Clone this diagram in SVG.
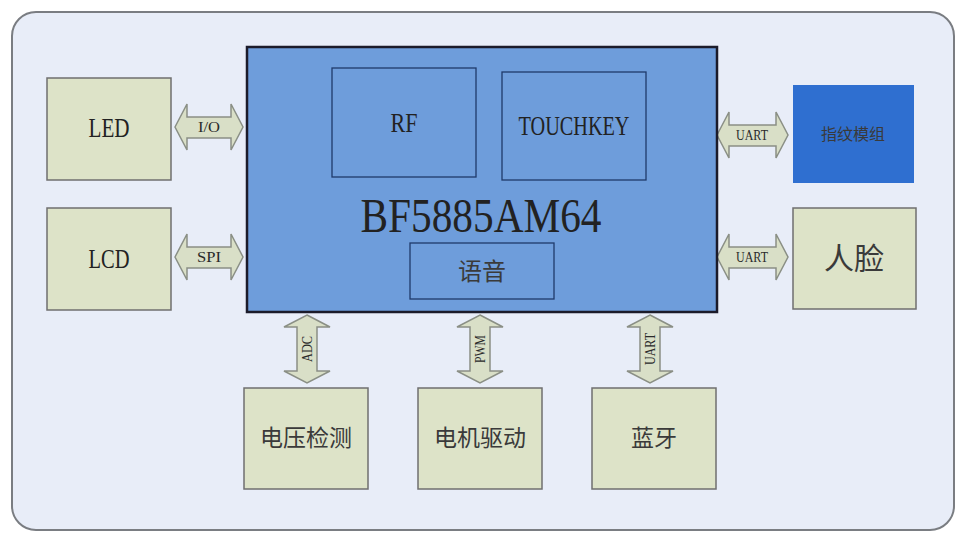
<svg xmlns="http://www.w3.org/2000/svg" width="965" height="542" viewBox="0 0 965 542">
<defs>
<style>
.node{fill:#dde3c8;stroke:#6f6f6f;stroke-width:1.5}
.chip{fill:#6e9ddb;stroke:#1b1b2a;stroke-width:2.5}
.sub{fill:none;stroke:#1f3a6a;stroke-width:1.3}
.arrow{fill:#d9dfc7;stroke:#8a8f85;stroke-width:1.5}
.ser{font-family:"Liberation Serif","Noto Sans CJK SC",serif;fill:#222}
.cjk{font-family:"Noto Sans CJK SC","Noto Sans",sans-serif;fill:#3a3a3a}
.lbl{font-family:"Liberation Serif",serif;font-size:14px;fill:#2a2a2a}
</style>
</defs>
<rect width="965" height="542" fill="#ffffff"/>
<rect id="frame" x="12" y="12" width="942" height="518" rx="24" fill="#e8edf8" stroke="#7a7d82" stroke-width="2"/>

<g id="connectors">
  <path class="arrow" d="M175,127 L187,104 L187,117 L231,117 L231,104 L243,127 L231,150 L231,138 L187,138 L187,150 Z"/>
  <text class="lbl" x="209" y="132" text-anchor="middle" textLength="22" lengthAdjust="spacingAndGlyphs">I/O</text>
  <path class="arrow" d="M175,257 L187,234 L187,247 L231,247 L231,234 L243,257 L231,280 L231,268 L187,268 L187,280 Z"/>
  <text class="lbl" x="209" y="262" text-anchor="middle" textLength="24" lengthAdjust="spacingAndGlyphs">SPI</text>
  <path class="arrow" d="M717,135 L729,112 L729,125 L776,125 L776,112 L788,135 L776,158 L776,146 L729,146 L729,158 Z"/>
  <text class="lbl" x="752" y="140" text-anchor="middle" textLength="32" lengthAdjust="spacingAndGlyphs">UART</text>
  <path class="arrow" d="M717,257 L729,234 L729,247 L776,247 L776,234 L788,257 L776,280 L776,268 L729,268 L729,280 Z"/>
  <text class="lbl" x="752" y="262" text-anchor="middle" textLength="32" lengthAdjust="spacingAndGlyphs">UART</text>
  <path class="arrow" d="M307,315 L330,327 L317,327 L317,371 L330,371 L307,383 L284,371 L297,371 L297,327 L284,327 Z"/>
  <text class="lbl" transform="translate(312,349) rotate(-90)" text-anchor="middle" textLength="26" lengthAdjust="spacingAndGlyphs">ADC</text>
  <path class="arrow" d="M480,315 L503,327 L490,327 L490,371 L503,371 L480,383 L457,371 L470,371 L470,327 L457,327 Z"/>
  <text class="lbl" transform="translate(485,349) rotate(-90)" text-anchor="middle" textLength="28" lengthAdjust="spacingAndGlyphs">PWM</text>
  <path class="arrow" d="M650,315 L673,327 L660,327 L660,371 L673,371 L650,383 L627,371 L640,371 L640,327 L627,327 Z"/>
  <text class="lbl" transform="translate(655,349) rotate(-90)" text-anchor="middle" textLength="32" lengthAdjust="spacingAndGlyphs">UART</text>
</g>

<g id="chip">
  <rect class="chip" x="247" y="47" width="470" height="265"/>
  <rect class="sub" x="332" y="68" width="144" height="109"/>
  <text class="ser" x="404" y="132" text-anchor="middle" font-size="28" textLength="27" lengthAdjust="spacingAndGlyphs" fill="#15203a">RF</text>
  <rect class="sub" x="502" y="72" width="144" height="108"/>
  <text class="ser" x="574" y="135" text-anchor="middle" font-size="28" textLength="111" lengthAdjust="spacingAndGlyphs" fill="#15203a">TOUCHKEY</text>
  <text class="ser" x="481" y="232" text-anchor="middle" font-size="48" textLength="241" lengthAdjust="spacingAndGlyphs" fill="#15203a">BF5885AM64</text>
  <rect class="sub" x="410" y="243" width="144" height="56"/>
  <text class="cjk" x="482" y="280" text-anchor="middle" font-size="24" fill="#1a2a44">语音</text>
</g>

<g id="led"><rect class="node" x="47" y="78" width="124" height="102"/>
  <text class="ser" x="109" y="137" text-anchor="middle" font-size="27" textLength="41" lengthAdjust="spacingAndGlyphs">LED</text></g>
<g id="lcd"><rect class="node" x="47" y="208" width="124" height="102"/>
  <text class="ser" x="109" y="268" text-anchor="middle" font-size="27" textLength="41" lengthAdjust="spacingAndGlyphs">LCD</text></g>
<g id="fingerprint"><rect x="793" y="85" width="121" height="98" fill="#2f6fd0"/>
  <text class="cjk" x="853" y="140" text-anchor="middle" font-size="16" fill="#1a2a66">指纹模组</text></g>
<g id="face"><rect class="node" x="793" y="208" width="123" height="101"/>
  <text class="cjk" x="854" y="269" text-anchor="middle" font-size="30" fill="#222">人脸</text></g>
<g id="voltage"><rect class="node" x="244" y="388" width="124" height="101"/>
  <text class="cjk" x="306" y="446" text-anchor="middle" font-size="23">电压检测</text></g>
<g id="motor"><rect class="node" x="418" y="388" width="124" height="101"/>
  <text class="cjk" x="480" y="446" text-anchor="middle" font-size="23">电机驱动</text></g>
<g id="bluetooth"><rect class="node" x="592" y="388" width="124" height="101"/>
  <text class="cjk" x="654" y="446" text-anchor="middle" font-size="23">蓝牙</text></g>
</svg>
